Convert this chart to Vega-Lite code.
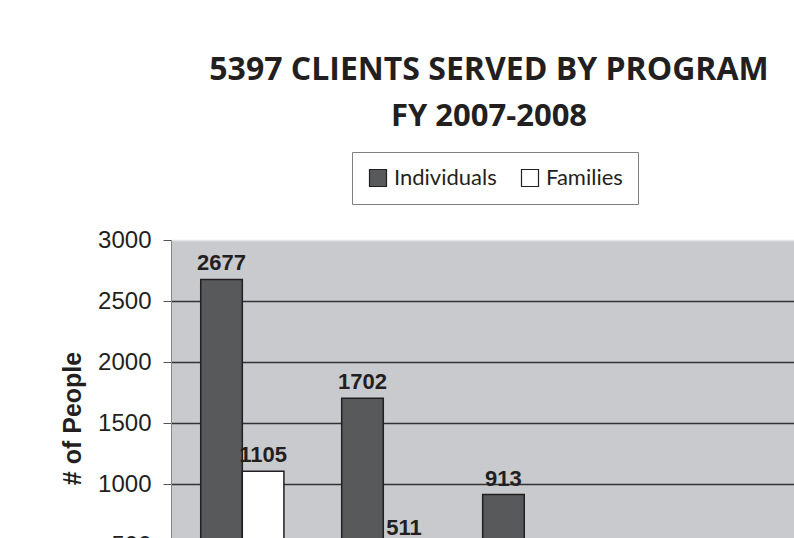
{
  "$schema": "https://vega.github.io/schema/vega-lite/v6.json",
  "width": 640,
  "height": 366,
  "autosize": {"type": "none"},
  "padding": {"left": 171, "top": 240, "right": -17, "bottom": -68},
  "background": "white",
  "title": {
    "text": "5397 CLIENTS SERVED BY PROGRAM",
    "subtitle": "FY 2007-2008",
    "anchor": "middle",
    "frame": "group",
    "font": "Open Sans",
    "fontSize": 32,
    "fontWeight": "bold",
    "color": "#231f20",
    "subtitleFont": "Open Sans",
    "subtitleFontSize": 31,
    "subtitleFontWeight": "bold",
    "subtitleColor": "#231f20",
    "subtitlePadding": 15,
    "offset": 19,
    "dx": -2
  },
  "data": {
    "values": [
      {"program": "Emergency Shelter", "group": "Individuals", "people": 2677},
      {"program": "Emergency Shelter", "group": "Families", "people": 1105},
      {"program": "Transitional Housing", "group": "Individuals", "people": 1702},
      {"program": "Transitional Housing", "group": "Families", "people": 511},
      {"program": "Supportive Services", "group": "Individuals", "people": 913},
      {"program": "Supportive Services", "group": "Families", "people": 240},
      {"program": "Prevention", "group": "Individuals", "people": 105},
      {"program": "Prevention", "group": "Families", "people": 40}
    ]
  },
  "encoding": {
    "x": {
      "field": "program",
      "type": "nominal",
      "sort": ["Emergency Shelter", "Transitional Housing", "Supportive Services", "Prevention"],
      "scale": {"paddingInner": 0.41, "paddingOuter": 0.475, "align": 0.222},
      "axis": {"title": null, "labelAngle": 0, "labelFont": "Liberation Sans", "labelFontSize": 18, "labelColor": "#231f20", "domainColor": "#888", "ticks": false}
    },
    "xOffset": {
      "field": "group",
      "type": "nominal",
      "sort": ["Individuals", "Families"],
      "scale": {"paddingInner": 0, "paddingOuter": 0}
    },
    "y": {
      "field": "people",
      "type": "quantitative",
      "scale": {"domain": [0, 3000], "nice": false},
      "axis": {
        "title": "# of People",
        "titleFont": "Liberation Sans",
        "titleFontSize": 25,
        "titleFontWeight": "bold",
        "titleColor": "#231f20",
        "titlePadding": 12,
        "titleY": 178,
        "values": [0, 500, 1000, 1500, 2000, 2500, 3000],
        "format": "d",
        "labelFont": "Liberation Sans",
        "labelFontSize": 24,
        "labelColor": "#231f20",
        "labelPadding": 12,
        "labelFlush": false,
        "tickSize": 8,
        "tickColor": "#555555",
        "domainColor": "#888888",
        "gridColor": {"condition": {"test": "datum.value >= 3000", "value": "#e6e6e6"}, "value": "#333333"},
        "gridWidth": 1.5
      }
    }
  },
  "layer": [
    {
      "mark": {"type": "bar", "stroke": "#231f20", "strokeWidth": 1.5},
      "encoding": {
        "color": {
          "field": "group",
          "type": "nominal",
          "scale": {"domain": ["Individuals", "Families"], "range": ["#58595b", "#ffffff"]},
          "legend": {
            "orient": "none",
            "legendX": 181,
            "legendY": -88,
            "direction": "horizontal",
            "title": null,
            "symbolType": "square",
            "symbolSize": 289,
            "symbolStrokeColor": "#231f20",
            "symbolStrokeWidth": 1.2,
            "symbolOpacity": 1,
            "labelFont": "Lato",
            "labelFontSize": 22,
            "labelColor": "#231f20",
            "labelOffset": 5,
            "columnPadding": 22,
            "padding": 15,
            "strokeColor": "#808080",
            "fillColor": "white"
          }
        }
      }
    },
    {
      "mark": {"type": "text", "baseline": "bottom", "dy": -4, "font": "Liberation Sans", "fontWeight": "bold", "fontSize": 22, "color": "#231f20"},
      "encoding": {"text": {"field": "people", "type": "quantitative"}}
    }
  ],
  "config": {"view": {"fill": "#c9cacd", "stroke": null}}
}
